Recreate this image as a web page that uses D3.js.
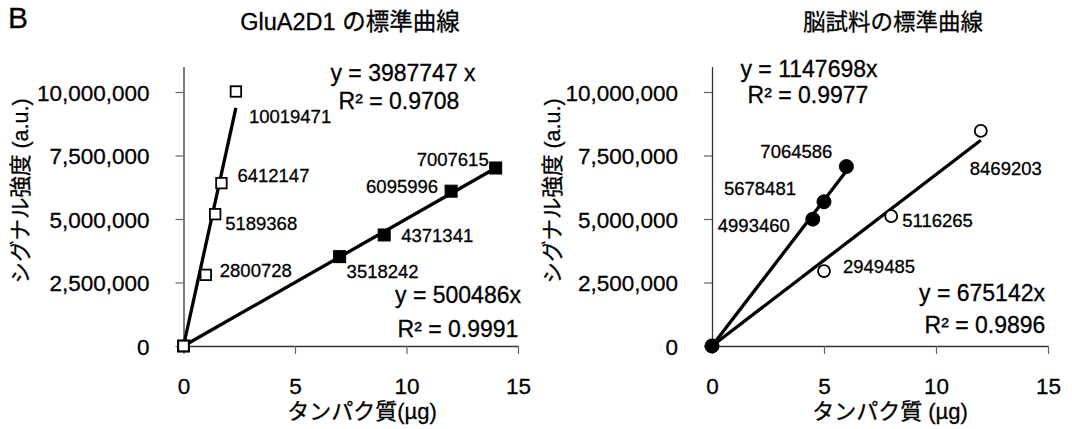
<!DOCTYPE html>
<html>
<head>
<meta charset="utf-8">
<script src="https://cdn.jsdelivr.net/npm/d3@7/dist/d3.min.js"></script>
<style>
  html, body { margin: 0; padding: 0; background: #fff; }
  svg { display: block; }
  text { font-family: "Liberation Sans", Arial, "Noto Sans CJK JP", sans-serif; fill: #000;
         stroke: #000; stroke-width: 0.3px; }
</style>
</head>
<body>
<svg id="chart" width="1072" height="429"></svg>
<script>
// ---- data ----
const xTicks = [0, 5, 10, 15];
const yTicks = [0, 2500000, 5000000, 7500000, 10000000];

// GluA2D1 standard (open squares)
const gluaStdX = [0, 1.0, 1.42, 1.7, 2.35];
const gluaStdY = [0, 2800728, 5189368, 6412147, 10019471];
const gluaStdSlope = 3987747;
const gluaStdR2 = 0.9708;

// GluA2D1 standard (filled squares)
const gluaRefX = [0, 7, 9, 12, 14];
const gluaRefY = [0, 3518242, 4371341, 6095996, 7007615];
const gluaRefSlope = 500486;
const gluaRefR2 = 0.9991;

// brain sample (filled circles)
const brainAX = [0, 4.5, 5, 6];
const brainAY = [0, 4993460, 5678481, 7064586];
const brainASlope = 1147698;
const brainAR2 = 0.9977;

// brain sample (open circles)
const brainBX = [0, 5, 8, 12];
const brainBY = [0, 2949485, 5116265, 8469203];
const brainBSlope = 675142;
const brainBR2 = 0.9896;

// ---- layout ----
const svg = d3.select("#chart");
const fmt = d3.format(",");

svg.append("text").attr("x", 8).attr("y", 28)
  .style("font-size", "30px").text("B");

function drawPanel(p) {
  const x = d3.scaleLinear().domain([0, 15]).range([p.x0, p.x1]);
  const y = d3.scaleLinear().domain([0, 11000000]).range([346, 66.6]);
  const g = svg.append("g");

  // axes
  const xAxis = g.append("g").attr("transform", `translate(0,${y(0)})`)
    .call(d3.axisBottom(x).tickValues(xTicks).tickFormat(d3.format("d"))
      .tickSizeInner(8).tickSizeOuter(0).tickPadding(24));
  const yAxis = g.append("g").attr("transform", `translate(${x(0)},0)`)
    .call(d3.axisLeft(y).tickValues(yTicks).tickFormat(fmt)
      .tickSizeInner(8).tickSizeOuter(0).tickPadding(26));
  [xAxis, yAxis].forEach(a => {
    a.select(".domain").attr("stroke", "#333").attr("stroke-width", 1.3);
    a.selectAll(".tick line").attr("stroke", "#666").attr("stroke-width", 1.2);
    a.selectAll(".tick text").style("font-size", "22.5px").attr("fill", "#000");
  });
  yAxis.selectAll(".tick text").attr("dy", "0.36em");

  // titles
  g.append("text").attr("x", p.titleX).attr("y", 30).attr("text-anchor", "middle")
    .style("font-size", p.titleSize).text(p.title);
  g.append("text").attr("x", p.xTitleX).attr("y", 419).attr("text-anchor", "middle")
    .style("font-size", "22px").text(p.xTitle);
  g.append("text")
    .attr("transform", `translate(${p.yTitleX},191) rotate(-90)`)
    .attr("text-anchor", "middle").attr("dy", "0.35em")
    .style("font-size", "21.5px").text("シグナル強度 (a.u.)");

  // series
  p.series.forEach(s => {
    const pts = s.xs.map((v, i) => ({ x: v, y: s.ys[i], off: s.labels[i] }));
    const xmax = d3.max(s.xs);
    // zero-intercept trend line
    g.append("line")
      .attr("x1", x(0)).attr("y1", y(0))
      .attr("x2", x(xmax)).attr("y2", y(s.slope * xmax))
      .attr("stroke", "#000").attr("stroke-width", 3.3);

    const m = g.append("g").selectAll("g").data(pts).join("g")
      .attr("transform", d => `translate(${x(d.x)},${y(d.y)})`);
    if (s.shape === "square") {
      const sz = s.filled ? 12 : 10.5;
      m.append("rect").attr("x", -sz / 2).attr("y", -sz / 2)
        .attr("width", sz).attr("height", sz)
        .attr("fill", s.filled ? "#000" : "#fff")
        .attr("stroke", "#000").attr("stroke-width", s.filled ? 1 : 1.8);
    } else {
      m.append("circle").attr("r", s.filled ? 7 : 6)
        .attr("fill", s.filled ? "#000" : "#fff")
        .attr("stroke", "#000").attr("stroke-width", s.filled ? 1 : 1.8);
    }

    // value labels
    g.append("g").selectAll("text").data(pts.filter(d => d.off)).join("text")
      .attr("x", d => x(d.x) + d.off[0])
      .attr("y", d => y(d.y) + d.off[1])
      .attr("text-anchor", d => d.off[2] || "start")
      .style("font-size", "18.5px")
      .text(d => d.y);

    // equation
    g.append("text").attr("x", s.eq[0]).attr("y", s.eq[1]).attr("text-anchor", "middle")
      .style("font-size", "23px").text(`y = ${s.slope}${s.eqSpace ? " " : ""}x`);
    g.append("text").attr("x", s.eq[2]).attr("y", s.eq[3]).attr("text-anchor", "middle")
      .style("font-size", "23px").text(`R² = ${s.r2}`);
  });
}

drawPanel({
  x0: 183.5, x1: 518,
  title: "GluA2D1 の標準曲線", titleX: 350, titleSize: "23.5px",
  xTitle: "タンパク質(µg)", xTitleX: 362,
  yTitleX: 20,
  series: [
    { xs: gluaRefX, ys: gluaRefY, slope: gluaRefSlope, r2: gluaRefR2,
      shape: "square", filled: true,
      labels: [null, [7, 21], [17, 7], [-13, 2, "end"], [-7, -2, "end"]],
      eq: [458, 303, 458, 337] },
    { xs: gluaStdX, ys: gluaStdY, slope: gluaStdSlope, r2: gluaStdR2,
      shape: "square", filled: false, eqSpace: true,
      labels: [null, [14, 2], [10, 16], [16, -1], [13, 31]],
      eq: [403, 81, 399, 109] }
  ]
});

drawPanel({
  x0: 712, x1: 1048,
  title: "脳試料の標準曲線", titleX: 893, titleSize: "22.5px",
  xTitle: "タンパク質 (µg)", xTitleX: 890,
  yTitleX: 552,
  series: [
    { xs: brainBX, ys: brainBY, slope: brainBSlope, r2: brainBR2,
      shape: "circle", filled: false,
      labels: [null, [19, 2], [11, 11], [-11, 44]],
      eq: [982, 301, 985, 333] },
    { xs: brainAX, ys: brainAY, slope: brainASlope, r2: brainAR2,
      shape: "circle", filled: true,
      labels: [null, [-23, 13, "end"], [-28, -7, "end"], [-14, -9, "end"]],
      eq: [809, 77, 808, 103] }
  ]
});
</script>
</body>
</html>
